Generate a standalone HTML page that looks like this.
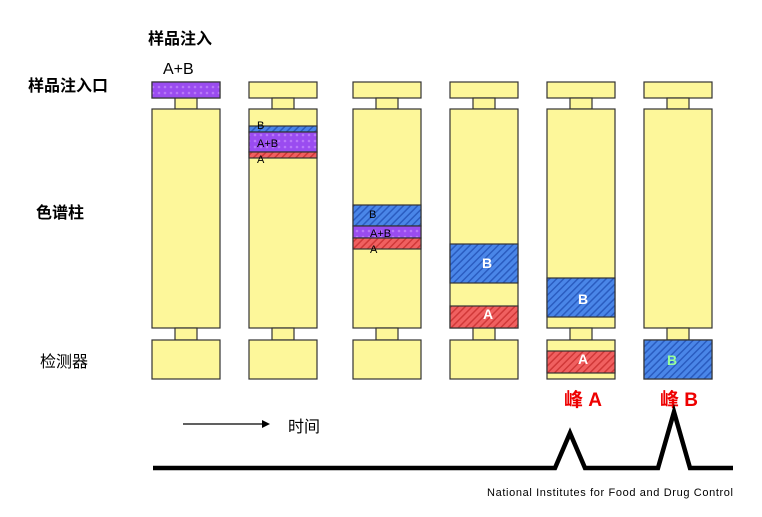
<!DOCTYPE html>
<html><head><meta charset="utf-8"><style>
body{margin:0;background:#fff;width:762px;height:512px;overflow:hidden}
text{font-family:"Liberation Sans","Noto Sans CJK SC",sans-serif}
</style></head><body>
<svg width="762" height="512" xmlns="http://www.w3.org/2000/svg">
<defs>
<pattern id="pb" width="5" height="5" patternUnits="userSpaceOnUse" patternTransform="rotate(45)"><rect width="5" height="5" fill="#4a86e8"/><rect width="1.5" height="5" fill="#2a5cc0"/></pattern>
<pattern id="pr" width="5" height="5" patternUnits="userSpaceOnUse" patternTransform="rotate(45)"><rect width="5" height="5" fill="#f06060"/><rect width="1.5" height="5" fill="#d03838"/></pattern>
<pattern id="pp" width="6" height="6" patternUnits="userSpaceOnUse"><rect width="6" height="6" fill="#9a4cf0"/><circle cx="3" cy="3" r="1.3" fill="#b878f8"/></pattern>
<g id="c"><rect x="0" y="82" width="68" height="16"/><rect x="23" y="98" width="22" height="11"/><rect x="0" y="109" width="68" height="219"/><rect x="23" y="328" width="22" height="12"/><rect x="0" y="340" width="68" height="39"/></g>
</defs>
<g stroke="#333" stroke-width="1.2" fill="#fdf79a">
<use href="#c" x="152"/><use href="#c" x="249"/><use href="#c" x="353"/><use href="#c" x="450"/><use href="#c" x="547"/><use href="#c" x="644"/>
<rect x="152" y="82" width="68" height="16" fill="url(#pp)"/>
<rect x="249" y="126" width="68" height="6" fill="url(#pb)"/>
<rect x="249" y="132" width="68" height="20" fill="url(#pp)"/>
<rect x="249" y="152" width="68" height="6" fill="url(#pr)"/>
<rect x="353" y="205" width="68" height="21" fill="url(#pb)"/>
<rect x="353" y="226" width="68" height="12" fill="url(#pp)"/>
<rect x="353" y="238" width="68" height="11" fill="url(#pr)"/>
<rect x="450" y="244" width="68" height="39" fill="url(#pb)"/>
<rect x="450" y="306" width="68" height="22" fill="url(#pr)"/>
<rect x="547" y="278" width="68" height="39" fill="url(#pb)"/>
<rect x="547" y="351" width="68" height="22" fill="url(#pr)"/>
<rect x="644" y="340" width="68" height="39" fill="url(#pb)"/>
</g>
<g font-size="11" fill="#000">
<text x="257" y="129">B</text><text x="257" y="147">A+B</text><text x="257" y="163">A</text>
<text x="369" y="218">B</text><text x="370" y="237">A+B</text><text x="370" y="253">A</text>
</g>
<g font-size="14" font-weight="bold" fill="#fff">
<text x="482" y="268">B</text><text x="483" y="319">A</text><text x="578" y="304">B</text><text x="578" y="364">A</text>
<text x="667" y="365" fill="#9f9">B</text></g>
<g font-size="16" fill="#000">
<text x="148" y="44" font-weight="bold">样品注入</text><text x="163" y="74">A+B</text>
<text x="28" y="91" font-weight="bold">样品注入口</text><text x="36" y="218" font-weight="bold">色谱柱</text><text x="40" y="367">检测器</text>
<text x="288" y="432">时间</text></g>
<g font-size="19" font-weight="bold" fill="#e00"><text x="564" y="406">峰 A</text><text x="660" y="406">峰 B</text></g>
<line x1="183" y1="424" x2="264" y2="424" stroke="#000" stroke-width="1.3"/>
<polygon points="270,424 262,420 262,428" fill="#000"/>
<polyline points="153,468 555,468 570,433 585,468 658,468 674,412 690,468 733,468" fill="none" stroke="#000" stroke-width="4.5"/>
<text x="487" y="496" font-size="11" textLength="246" fill="#000">National Institutes for Food and Drug Control</text>
</svg>
</body></html>
